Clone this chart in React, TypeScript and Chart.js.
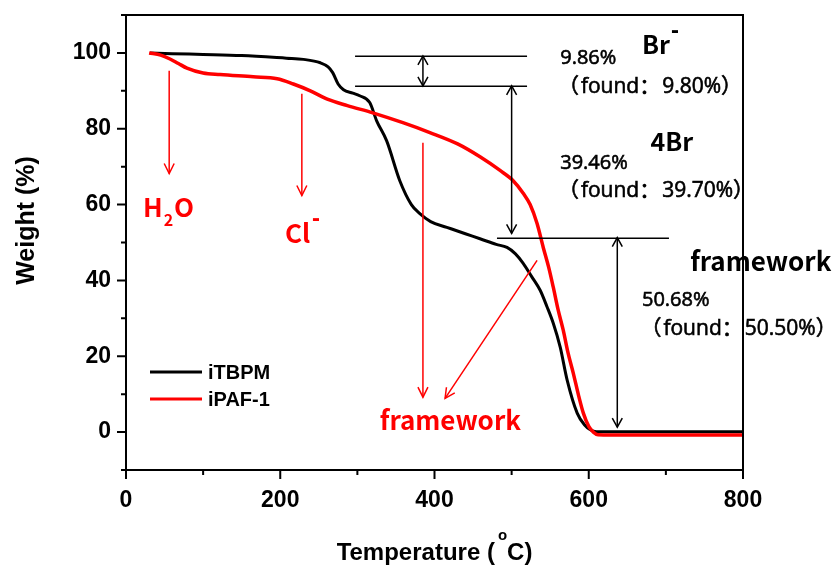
import React, { useEffect, useRef } from "react";
import { Chart, registerables } from "chart.js";

Chart.register(...registerables);

// ---- data ----
const tbpmTemp = [31, 60, 100, 150, 208, 230, 252, 262, 268, 275, 282, 294, 303, 316, 325, 338, 355, 370, 381, 395, 416, 440, 459, 480, 494, 505, 515, 526, 537, 546, 554, 563, 572, 585, 595, 602, 610, 650, 700, 800];
const tbpmWeight = [100, 99.8, 99.6, 99.3, 98.6, 98.3, 97.4, 96.3, 94.8, 91.8, 90.3, 89.4, 88.7, 86.9, 82.1, 76.8, 66.3, 60.0, 57.6, 55.5, 54.0, 52.3, 51.0, 49.5, 48.7, 47.0, 44.5, 41.0, 37.4, 33.0, 28.7, 22.4, 13.7, 5.0, 1.8, 0.6, 0.1, 0.1, 0.1, 0.1];

const pafTemp = [30, 45, 57, 68, 79, 100, 122, 165, 196, 217, 239, 261, 287, 320, 359, 394, 430, 459, 485, 502, 515, 524, 533, 541, 548, 554, 560, 567, 573, 580, 587, 593, 600, 606, 612, 650, 700, 800];
const pafWeight = [100, 99.4, 98.4, 97.2, 96.0, 94.7, 94.3, 93.7, 93.2, 91.8, 90.0, 87.8, 86.1, 84.2, 81.6, 79.0, 76.0, 72.6, 69.0, 66.3, 63.0, 60.0, 55.0, 48.7, 43.5, 38.2, 32.5, 26.8, 21.0, 15.5, 9.5, 5.0, 1.5, 0.0, -0.7, -0.8, -0.8, -0.8];

const seriesLabels = ["iTBPM", "iPAF-1"];
const seriesColors = ["#000000", "#ff0000"];

const xMajorTicks = [0, 200, 400, 600, 800];
const xMinorTicks = [100, 300, 500, 700];
const yMajorTicks = [0, 20, 40, 60, 80, 100];
const yMinorTicks = [-10, 10, 30, 50, 70, 90, 110];

// annotation guide lines (data coordinates)
const guideLinesY = [99.2, 91.3, 51.3];
const guideLinesX0 = [297, 297, 481];
const guideLinesX1 = [520, 520, 704];
// black double-headed arrows: x, yTop, yBottom
const dblArrowX = [385, 500, 637];
const dblArrowTop = [99.2, 91.3, 51.3];
const dblArrowBottom = [91.3, 52.4, 1.3];
// red arrows: from (x0,y0) to (x1,y1)
const redArrowX0 = [56, 228, 385, 533];
const redArrowY0 = [95.3, 89.2, 76.3, 45.3];
const redArrowX1 = [56, 228, 385, 413.7];
const redArrowY1 = [68.2, 62.4, 9.2, 8.9];

const CJK = '"Noto Sans CJK SC", "Noto Sans", sans-serif';
const LATIN = '"Open Sans", "Noto Sans CJK SC", sans-serif';
const ARIAL = '"Liberation Sans", Arial, sans-serif';

type Part = { text: string; font: string; dy?: number; gap?: number };
type Label = { parts: Part[]; x: number; y: number; color: string; heavy?: boolean };
// text labels positioned in data coordinates (left edge, baseline)
const labels: Label[] = [
  { parts: [{ text: "9.86%", font: `20px ${LATIN}` }], x: 563, y: 97.1, color: "#000", heavy: true },
  { parts: [{ text: "Br", font: `bold 25px ${CJK}` }, { text: "-", font: `bold 24px ${ARIAL}`, dy: -16, gap: 1 }], x: 669, y: 99.7, color: "#000" },
  { parts: [{ text: "（", font: `21px ${CJK}` }, { text: "found", font: `21px ${LATIN}`, gap: 2 }, { text: "：", font: `21px ${CJK}` }, { text: "9.80%", font: `21px ${LATIN}`, gap: 2 }, { text: "）", font: `21px ${CJK}` }], x: 560, y: 89.5, color: "#000", heavy: true },
  { parts: [{ text: "4Br", font: `bold 25px ${CJK}` }], x: 680, y: 74.2, color: "#000" },
  { parts: [{ text: "39.46%", font: `20px ${LATIN}` }], x: 563, y: 69.5, color: "#000", heavy: true },
  { parts: [{ text: "（", font: `21px ${CJK}` }, { text: "found", font: `21px ${LATIN}`, gap: 2 }, { text: "：", font: `21px ${CJK}` }, { text: "39.70%", font: `21px ${LATIN}`, gap: 2 }, { text: "）", font: `21px ${CJK}` }], x: 560, y: 62.1, color: "#000", heavy: true },
  { parts: [{ text: "framework", font: `bold 26px ${CJK}` }], x: 731.5, y: 42.6, color: "#000" },
  { parts: [{ text: "50.68%", font: `20px ${LATIN}` }], x: 669, y: 33.2, color: "#000", heavy: true },
  { parts: [{ text: "（", font: `21px ${CJK}` }, { text: "found", font: `21px ${LATIN}`, gap: 2 }, { text: "：", font: `21px ${CJK}` }, { text: "50.50%", font: `21px ${LATIN}`, gap: 2 }, { text: "）", font: `21px ${CJK}` }], x: 667, y: 25.5, color: "#000", heavy: true },
  { parts: [{ text: "framework", font: `bold 26px ${CJK}` }], x: 329, y: 0.5, color: "#ff0000" },
  {
    parts: [
      { text: "H", font: `bold 26px ${CJK}` },
      { text: "2", font: `bold 16px ${CJK}`, dy: 9, gap: 1 },
      { text: "O", font: `bold 26px ${CJK}`, gap: 1 },
    ],
    x: 22, y: 56.6, color: "#ff0000",
  },
  { parts: [{ text: "Cl", font: `bold 26px ${CJK}` }, { text: "-", font: `bold 24px ${ARIAL}`, dy: -17, gap: 2 }], x: 206, y: 50.0, color: "#ff0000" },
];

function arrowHead(ctx: CanvasRenderingContext2D, tx: number, ty: number, fx: number, fy: number, len: number, half: number) {
  const dx = tx - fx, dy = ty - fy;
  const d = Math.hypot(dx, dy) || 1;
  const ux = dx / d, uy = dy / d;
  const bx = tx - ux * len, by = ty - uy * len;
  ctx.beginPath();
  ctx.moveTo(bx - uy * half, by + ux * half);
  ctx.lineTo(tx, ty);
  ctx.lineTo(bx + uy * half, by - ux * half);
  ctx.stroke();
}

const decorPlugin = {
  id: "tgaDecor",
  afterDraw(chart: any) {
    const { ctx, chartArea: a } = chart;
    const xs = chart.scales.x, ys = chart.scales.y;
    const px = (v: number) => xs.getPixelForValue(v);
    const py = (v: number) => ys.getPixelForValue(v);
    ctx.save();
    ctx.strokeStyle = "#000";
    ctx.lineCap = "butt";

    // frame
    ctx.lineWidth = 2;
    ctx.strokeRect(a.left, a.top, a.right - a.left, a.bottom - a.top);

    // tick marks (outside)
    ctx.lineWidth = 2;
    ctx.beginPath();
    xMajorTicks.forEach((v) => { const x = px(v); ctx.moveTo(x, a.bottom); ctx.lineTo(x, a.bottom + 9); });
    xMinorTicks.forEach((v) => { const x = px(v); ctx.moveTo(x, a.bottom); ctx.lineTo(x, a.bottom + 5); });
    yMajorTicks.forEach((v) => { const y = py(v); ctx.moveTo(a.left, y); ctx.lineTo(a.left - 9, y); });
    yMinorTicks.forEach((v) => { const y = py(v); ctx.moveTo(a.left, y); ctx.lineTo(a.left - 5, y); });
    ctx.stroke();

    // guide lines
    ctx.lineWidth = 1.5;
    ctx.beginPath();
    guideLinesY.forEach((yv, i) => {
      const y = Math.round(py(yv)) + 0.25;
      ctx.moveTo(px(guideLinesX0[i]), y);
      ctx.lineTo(px(guideLinesX1[i]), y);
    });
    ctx.stroke();

    // black double arrows
    dblArrowX.forEach((xv, i) => {
      const x = px(xv), y0 = py(dblArrowTop[i]), y1 = py(dblArrowBottom[i]);
      ctx.beginPath();
      ctx.moveTo(x, y0);
      ctx.lineTo(x, y1);
      ctx.stroke();
      arrowHead(ctx, x, y0, x, y1, 9, 5);
      arrowHead(ctx, x, y1, x, y0, 9, 5);
    });

    // red arrows
    ctx.strokeStyle = "#ff0000";
    ctx.lineWidth = 1.5;
    redArrowX0.forEach((xv, i) => {
      const x0 = px(xv), y0 = py(redArrowY0[i]), x1 = px(redArrowX1[i]), y1 = py(redArrowY1[i]);
      ctx.beginPath();
      ctx.moveTo(x0, y0);
      ctx.lineTo(x1, y1);
      ctx.stroke();
      arrowHead(ctx, x1, y1, x0, y0, 10, 5);
    });

    // text labels
    ctx.textAlign = "left";
    ctx.textBaseline = "alphabetic";
    labels.forEach((l) => {
      ctx.fillStyle = l.color;
      ctx.strokeStyle = l.color;
      ctx.lineWidth = 0.6;
      let x = px(l.x);
      const y = py(l.y);
      l.parts.forEach((p) => {
        ctx.font = p.font;
        x += p.gap || 0;
        ctx.fillText(p.text, x, y + (p.dy || 0));
        if (l.heavy) ctx.strokeText(p.text, x, y + (p.dy || 0));
        x += ctx.measureText(p.text).width;
      });
    });

    // legend (inside plot, lower left)
    const lx = a.left + 24, ly = a.bottom - 98;
    chart.data.datasets.forEach((ds: any, i: number) => {
      const yy = ly + i * 27;
      ctx.strokeStyle = ds.borderColor;
      ctx.lineWidth = 3;
      ctx.beginPath();
      ctx.moveTo(lx, yy);
      ctx.lineTo(lx + 52, yy);
      ctx.stroke();
      ctx.fillStyle = "#000";
      ctx.font = `bold 20px ${ARIAL}`;
      ctx.fillText(ds.label, lx + 58, yy + 7);
    });

    // axis titles
    ctx.fillStyle = "#000";
    const p1 = "Temperature (", p2 = "o", p3 = "C)";
    const bigFont = `bold 24px ${ARIAL}`, smallFont = `bold 15px ${ARIAL}`;
    ctx.font = bigFont;
    const w1 = ctx.measureText(p1).width, w3 = ctx.measureText(p3).width;
    ctx.font = smallFont;
    const w2 = ctx.measureText(p2).width;
    const total = w1 + 3 + w2 + w3;
    let sx = (a.left + a.right) / 2 - total / 2;
    const base = a.bottom + 90;
    ctx.font = bigFont;
    ctx.fillText(p1, sx, base);
    sx += w1 + 3;
    ctx.font = smallFont;
    ctx.fillText(p2, sx, base - 20);
    sx += w2;
    ctx.font = bigFont;
    ctx.fillText(p3, sx, base);

    ctx.save();
    ctx.translate(34, (a.top + a.bottom) / 2 - 22);
    ctx.rotate(-Math.PI / 2);
    ctx.textAlign = "center";
    ctx.font = `bold 25px ${ARIAL}`;
    ctx.fillText("Weight (%)", 0, 0);
    ctx.restore();

    ctx.restore();
  },
};

export default function App() {
  const ref = useRef<HTMLCanvasElement | null>(null);
  useEffect(() => {
    if (!ref.current) return;
    const chart = new Chart(ref.current, {
      type: "line",
      data: {
        datasets: [
          {
            label: seriesLabels[0],
            data: tbpmTemp.map((t, i) => ({ x: t, y: tbpmWeight[i] })),
            borderColor: seriesColors[0],
            borderWidth: 3,
            pointRadius: 0,
            fill: false,
            cubicInterpolationMode: "monotone",
            order: 2,
          },
          {
            label: seriesLabels[1],
            data: pafTemp.map((t, i) => ({ x: t, y: pafWeight[i] })),
            borderColor: seriesColors[1],
            borderWidth: 3.5,
            pointRadius: 0,
            fill: false,
            cubicInterpolationMode: "monotone",
            order: 1,
          },
        ],
      },
      options: {
        responsive: false,
        animation: false,
        devicePixelRatio: 1,
        layout: { padding: { top: 15, right: 97, left: 0, bottom: 0 } },
        plugins: { legend: { display: false }, tooltip: { enabled: false } },
        scales: {
          x: {
            type: "linear",
            min: 0,
            max: 800,
            grid: { display: false, drawTicks: false },
            border: { display: false },
            afterBuildTicks: (s: any) => { s.ticks = xMajorTicks.map((v) => ({ value: v })); },
            afterFit: (s: any) => { s.height = 99; s.paddingLeft = 0; s.paddingRight = 0; s.paddingTop = 0; s.paddingBottom = 0; },
            ticks: {
              color: "#000",
              padding: 17,
              maxRotation: 0,
              font: { family: ARIAL, size: 23, weight: "bold" },
            },
          },
          y: {
            type: "linear",
            min: -10,
            max: 110,
            grid: { display: false, drawTicks: false },
            border: { display: false },
            afterBuildTicks: (s: any) => { s.ticks = yMajorTicks.map((v) => ({ value: v })); },
            afterFit: (s: any) => { s.width = 126; s.paddingLeft = 0; s.paddingRight = 0; s.paddingTop = 0; s.paddingBottom = 0; },
            ticks: {
              color: "#000",
              padding: 15,
              font: { family: ARIAL, size: 23, weight: "bold" },
            },
          },
        },
      },
      plugins: [decorPlugin],
    } as any);
    return () => chart.destroy();
  }, []);
  return (
    <div style={{ position: "absolute", left: 0, top: 0, width: 840, height: 569, background: "#fff" }}>
      <canvas ref={ref} width={840} height={569} style={{ width: 840, height: 569 }} />
    </div>
  );
}
